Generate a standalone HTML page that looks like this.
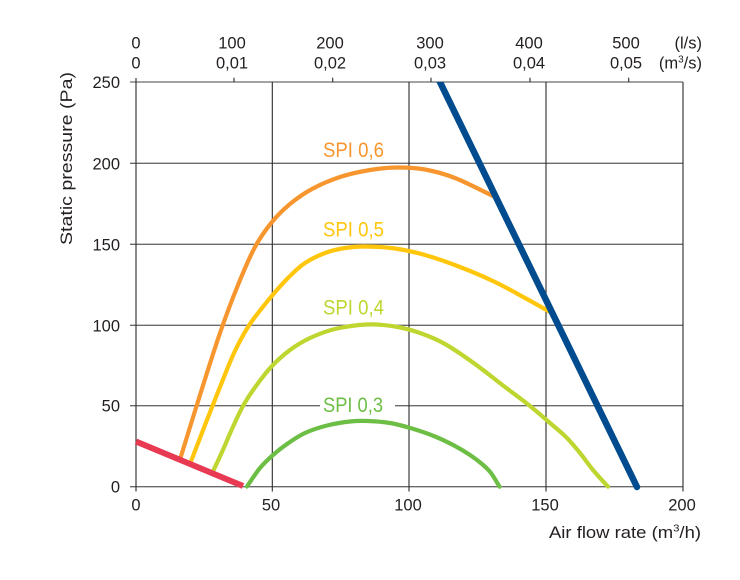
<!DOCTYPE html>
<html>
<head>
<meta charset="utf-8">
<style>
  html,body{margin:0;padding:0;background:#fff;}
  svg{display:block;}
  text{font-family:"Liberation Sans",sans-serif;fill:#231f20;}
</style>
</head>
<body>
<svg id="chart" width="740" height="580" viewBox="0 0 740 580" xmlns="http://www.w3.org/2000/svg">
  <defs>
    <clipPath id="plot"><rect x="130" y="82" width="600" height="430"/></clipPath>
  </defs>
  <rect width="740" height="580" fill="#fff"/>

  <!-- horizontal grid lines -->
  <g stroke="#6a6a6a" stroke-width="1.3">
    <line x1="130" y1="82" x2="683" y2="82"/>
    <line x1="130" y1="163.3" x2="683" y2="163.3"/>
    <line x1="130" y1="244.3" x2="683" y2="244.3"/>
    <line x1="130" y1="325.3" x2="683" y2="325.3"/>
    <line x1="130" y1="405.7" x2="683" y2="405.7"/>
    <line x1="130" y1="486.7" x2="683" y2="486.7"/>
  </g>
  <!-- vertical grid lines -->
  <g stroke="#2a2a2a" stroke-width="1.1">
    <line x1="136" y1="78" x2="136" y2="491.5"/>
    <line x1="272.3" y1="82" x2="272.3" y2="491.5"/>
    <line x1="409" y1="82" x2="409" y2="491.5"/>
    <line x1="546" y1="82" x2="546" y2="491.5"/>
    <line x1="683" y1="82" x2="683" y2="491.5"/>
    <!-- top ticks -->
    <line x1="234" y1="77.7" x2="234" y2="82"/>
    <line x1="332.7" y1="77.7" x2="332.7" y2="82"/>
    <line x1="431" y1="77.7" x2="431" y2="82"/>
    <line x1="530" y1="77.7" x2="530" y2="82"/>
    <line x1="628.7" y1="77.7" x2="628.7" y2="82"/>
  </g>

  <!-- SPI 0,3 label background breaking gridline -->
  <rect x="320" y="401" width="75" height="10" fill="#fff"/>

  <!-- curves -->
  <g id="curves" fill="none" stroke-linecap="round" stroke-linejoin="round">
    <polyline class="sm" stroke="#F7962E" stroke-width="4.2" points="180,459.5 200,395 220,333 238,285 255,247 272,222 290,204 312,189 340,177 370,170 397,167.5 425,169.5 455,178 493,196"/>
    <polyline class="sm" stroke="#FFC60B" stroke-width="4.2" points="190,464 205,425 220,387 234,353 248,327 262,308 276,291 290,276 305,263 325,253 345,248 365,246.5 395,248.5 425,255 460,267 495,282 525,298 551,312.5"/>
    <polyline class="sm" stroke="#BED62F" stroke-width="4.2" points="212,473.5 222,452 232,429 243,406 256,386 272,366 290,350 310,338 335,329 367,324.5 395,326.5 420,333 445,344 475,364 505,387 530,406 550,423 566,437 580,453 593,470 608,486.7"/>
    <polyline class="sm" stroke="#6DBE45" stroke-width="4.2" points="247,486.5 260,468 273,455 287,444 305,433 327,425.5 350,421.5 368,421 390,423 412,428.5 435,436.5 455,446 470,455 482,464 491,473 499.5,486.7"/>
  </g>
  <line x1="136" y1="441.5" x2="243" y2="486" stroke="#E93A54" stroke-width="6"/>
  <g clip-path="url(#plot)">
    <line x1="438" y1="78" x2="637" y2="487" stroke="#004C8F" stroke-width="6.5" stroke-linecap="round"/>
  </g>

  <!-- SPI labels -->
  <g font-size="21">
    <text x="323" y="157" textLength="61" lengthAdjust="spacingAndGlyphs" style="fill:#F7962E">SPI 0,6</text>
    <text x="323" y="236.5" textLength="61" lengthAdjust="spacingAndGlyphs" style="fill:#FFC60B">SPI 0,5</text>
    <text x="323" y="314.5" textLength="61" lengthAdjust="spacingAndGlyphs" style="fill:#BED62F">SPI 0,4</text>
    <text x="323" y="412" textLength="60" lengthAdjust="spacingAndGlyphs" style="fill:#6DBE45">SPI 0,3</text>
  </g>

  <!-- y tick labels -->
  <g font-size="16.5" text-anchor="end">
    <text x="120" y="88">250</text>
    <text x="120" y="169.3">200</text>
    <text x="120" y="250.3">150</text>
    <text x="120" y="331.3">100</text>
    <text x="120" y="411.7">50</text>
    <text x="120" y="492.5">0</text>
  </g>

  <!-- x bottom tick labels -->
  <g font-size="16.5" text-anchor="middle">
    <text x="136" y="510.5">0</text>
    <text x="271" y="510.5">50</text>
    <text x="408" y="510.5">100</text>
    <text x="545" y="510.5">150</text>
    <text x="682" y="510.5">200</text>
  </g>

  <!-- top tick labels -->
  <g font-size="16.5" text-anchor="middle">
    <text x="136" y="48.3">0</text>
    <text x="232" y="48.3">100</text>
    <text x="330" y="48.3">200</text>
    <text x="430" y="48.3">300</text>
    <text x="529" y="48.3">400</text>
    <text x="626" y="48.3">500</text>
    <text x="136" y="68.3">0</text>
    <text x="232" y="68.3">0,01</text>
    <text x="330" y="68.3">0,02</text>
    <text x="430" y="68.3">0,03</text>
    <text x="529" y="68.3">0,04</text>
    <text x="626" y="68.3">0,05</text>
  </g>
  <g font-size="16.5" text-anchor="end">
    <text x="702" y="48.3">(l/s)</text>
    <text x="702" y="68.3">(m<tspan font-size="10" dy="-6">3</tspan><tspan dy="6">/s)</tspan></text>
  </g>

  <!-- axis titles -->
  <text x="549" y="538" font-size="17" textLength="152" lengthAdjust="spacingAndGlyphs">Air flow rate (m<tspan font-size="10.5" dy="-6.5">3</tspan><tspan dy="6.5">/h)</tspan></text>
  <text transform="translate(72,158.5) rotate(-90)" font-size="17" text-anchor="middle" textLength="173" lengthAdjust="spacingAndGlyphs">Static pressure (Pa)</text>
</svg>
<script>
(function(){
  var NS="http://www.w3.org/2000/svg";
  var pls=document.querySelectorAll("polyline.sm");
  for(var k=0;k<pls.length;k++){
    var pl=pls[k];
    var raw=pl.getAttribute("points").trim().split(/\s+/);
    var p=[];
    for(var i=0;i<raw.length;i++){var a=raw[i].split(",");p.push([+a[0],+a[1]]);}
    var d="M"+p[0][0]+","+p[0][1];
    for(var i=0;i<p.length-1;i++){
      var p0=p[i-1]||p[i], p1=p[i], p2=p[i+1], p3=p[i+2]||p[i+1];
      var c1x=p1[0]+(p2[0]-p0[0])/6, c1y=p1[1]+(p2[1]-p0[1])/6;
      var c2x=p2[0]-(p3[0]-p1[0])/6, c2y=p2[1]-(p3[1]-p1[1])/6;
      d+=" C"+c1x.toFixed(2)+","+c1y.toFixed(2)+" "+c2x.toFixed(2)+","+c2y.toFixed(2)+" "+p2[0]+","+p2[1];
    }
    var path=document.createElementNS(NS,"path");
    path.setAttribute("d",d);
    path.setAttribute("stroke",pl.getAttribute("stroke"));
    path.setAttribute("stroke-width",pl.getAttribute("stroke-width"));
    pl.parentNode.replaceChild(path,pl);
  }
})();
</script>
</body>
</html>
